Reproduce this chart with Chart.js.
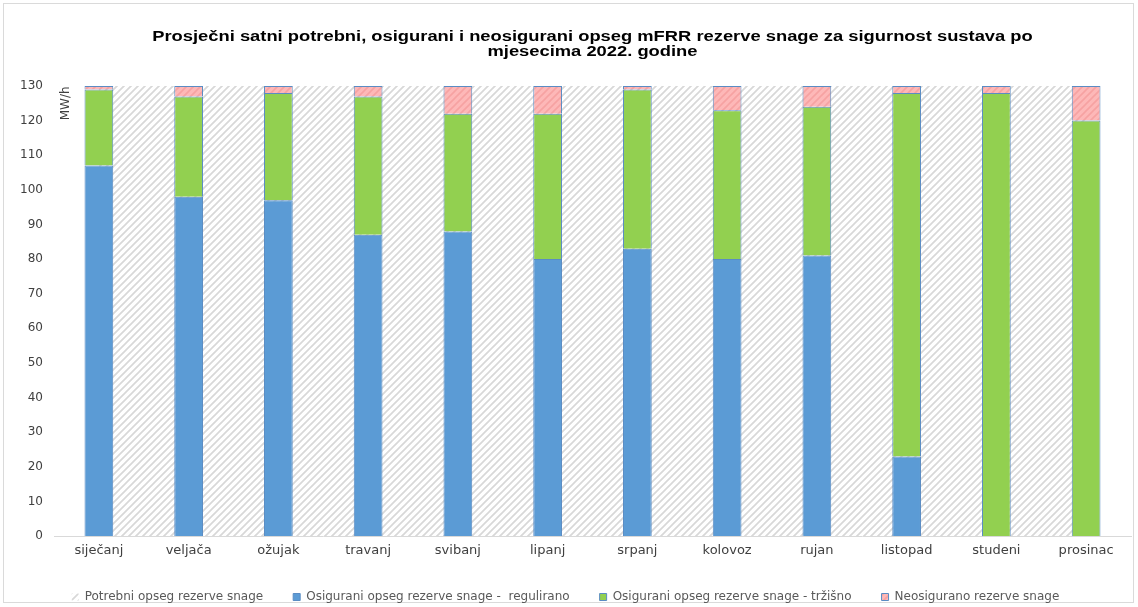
<!DOCTYPE html>
<html>
<head>
<meta charset="utf-8">
<script src="https://cdn.jsdelivr.net/npm/chart.js@4.4.1/dist/chart.umd.min.js"></script>
<style>
    body { margin: 0; background: #ffffff; }
    #wrap { width: 1138px; height: 607px; }
</style>
</head>
<body>
<div id="wrap"><canvas id="myChart" width="1138" height="607"></canvas></div>
<script>
const months = ['siječanj', 'veljača', 'ožujak', 'travanj', 'svibanj', 'lipanj',
    'srpanj', 'kolovoz', 'rujan', 'listopad', 'studeni', 'prosinac'];
const potrebno = [130, 130, 130, 130, 130, 130, 130, 130, 130, 130, 130, 130];
const regulirano = [107, 98, 97, 87, 88, 80, 83, 80, 81, 23, 0, 0];
const trzisno = [22, 29, 31, 40, 34, 42, 46, 43, 43, 105, 128, 120];
const neosigurano = [1, 3, 2, 3, 8, 8, 1, 7, 6, 2, 2, 10];
const yTicks = [0, 10, 20, 30, 40, 50, 60, 70, 80, 90, 100, 110, 120, 130];

const titleLines = ['Prosječni satni potrebni, osigurani i neosigurani opseg mFRR rezerve snage za sigurnost sustava po',
    'mjesecima 2022. godine'];

// diagonal hatch fill, lines going up to the right
function makeHatch(bg, line, size, width) {
    const c = document.createElement('canvas');
    c.width = size;
    c.height = size;
    const g = c.getContext('2d');
    g.fillStyle = bg;
    g.fillRect(0, 0, size, size);
    g.strokeStyle = line;
    g.lineWidth = width;
    g.beginPath();
    g.moveTo(0, size); g.lineTo(size, 0);
    g.moveTo(-size, size); g.lineTo(size, -size);
    g.moveTo(0, 2 * size); g.lineTo(2 * size, 0);
    g.stroke();
    return g.createPattern(c, 'repeat');
}

const grayHatch = makeHatch('#ffffff', '#d8d8d8', 7, 1.7);
const pinkHatch = makeHatch('#fdb8b8', '#f6a2a2', 7, 1.6);

const textColor = '#404040';
const barBorder = '#5a8cc4';

// frame, title (centred over the plot, a little widened) and the unit label
const extras = {
    id: 'extras',
    beforeDraw(chart) {
        const ctx = chart.ctx;
        ctx.save();
        ctx.strokeStyle = '#dadada';
        ctx.lineWidth = 1;
        ctx.strokeRect(3.5, 3.5, chart.width - 8, chart.height - 8);
        ctx.restore();
    },
    afterDraw(chart) {
        const ctx = chart.ctx;
        const area = chart.chartArea;
        const y = chart.scales.y;

        ctx.save();
        ctx.translate((area.left + area.right) / 2, 0);
        ctx.scale(1.31, 1);
        ctx.font = 'bold 14px "Liberation Sans"';
        ctx.fillStyle = '#000000';
        ctx.textAlign = 'center';
        ctx.textBaseline = 'middle';
        titleLines.forEach((line, i) => ctx.fillText(line, 0, 37 + i * 15));
        ctx.restore();

        ctx.save();
        ctx.translate(area.left + 12, y.getPixelForValue(125));
        ctx.rotate(-Math.PI / 2);
        ctx.font = '12px "DejaVu Sans"';
        ctx.fillStyle = textColor;
        ctx.textAlign = 'center';
        ctx.textBaseline = 'middle';
        ctx.fillText('MW/h', 0, 0);
        ctx.restore();
    }
};

const data = {
    labels: months,
    datasets: [
        {
            type: 'line',
            label: 'Potrebni opseg rezerve snage',
            data: potrebno,
            backgroundColor: grayHatch,
            borderColor: 'rgba(0,0,0,0)',
            borderWidth: 0,
            pointRadius: 0,
            fill: 'origin',
            stack: 'potrebno',
            order: 5
        },
        {
            label: 'Osigurani opseg rezerve snage -  regulirano',
            data: regulirano,
            backgroundColor: '#5b9bd5',
            borderColor: barBorder,
            borderWidth: 1,
            stack: 'osigurano',
            order: 0
        },
        {
            label: 'Osigurani opseg rezerve snage - tržišno',
            data: trzisno,
            backgroundColor: '#92d050',
            borderColor: barBorder,
            borderWidth: 1,
            stack: 'osigurano',
            order: 0
        },
        {
            label: 'Neosigurano rezerve snage',
            data: neosigurano,
            backgroundColor: pinkHatch,
            borderColor: barBorder,
            borderWidth: 1,
            stack: 'osigurano',
            order: 0
        }
    ]
};

const config = {
    type: 'bar',
    data: data,
    plugins: [extras],
    options: {
        responsive: false,
        devicePixelRatio: 1,
        animation: false,
        layout: { padding: { left: 0, right: 7, top: 86, bottom: -6 } },
        datasets: {
            bar: { categoryPercentage: 0.32, barPercentage: 1 }
        },
        scales: {
            x: {
                stacked: true,
                grid: { display: false, drawTicks: false },
                border: { display: true, color: '#d9d9d9', width: 1 },
                ticks: {
                    color: textColor,
                    font: { family: 'DejaVu Sans', size: 13 },
                    padding: 7,
                    maxRotation: 0
                },
                afterFit(scale) { scale.height = 25; }
            },
            y: {
                stacked: true,
                min: 0,
                max: 130,
                afterBuildTicks(scale) {
                    scale.ticks = yTicks.map(v => ({ value: v }));
                },
                grid: { display: false, drawTicks: false },
                border: { display: false },
                ticks: {
                    color: textColor,
                    font: { family: 'DejaVu Sans', size: 12 },
                    padding: 11
                },
                afterFit(scale) { scale.width = 54; }
            }
        },
        plugins: {
            title: { display: false },
            legend: {
                position: 'bottom',
                labels: {
                    color: '#595959',
                    font: { family: 'DejaVu Sans', size: 12 },
                    boxWidth: 7,
                    boxHeight: 7,
                    padding: 30,
                    sort: (a, b) => a.datasetIndex - b.datasetIndex
                }
            },
            tooltip: { enabled: false }
        }
    }
};

const myChart = new Chart(document.getElementById('myChart').getContext('2d'), config);
</script>
</body>
</html>
